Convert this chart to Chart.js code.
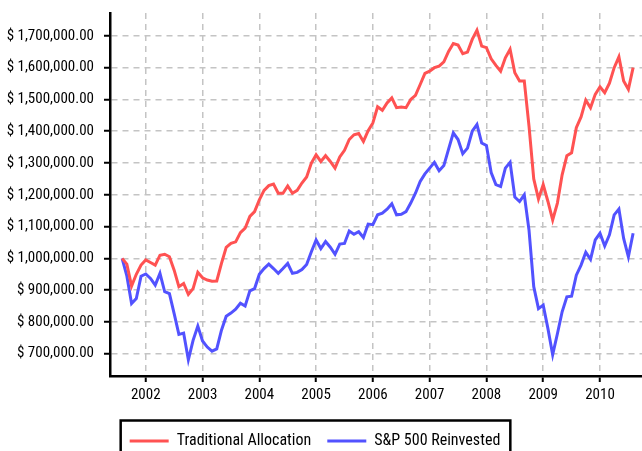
<!DOCTYPE html>
<html>
<head>
<meta charset="utf-8">
<script src="https://cdn.jsdelivr.net/npm/chart.js@4.4.1/dist/chart.umd.min.js"></script>
<style>
    html, body { margin: 0; padding: 0; overflow: hidden; background: #fff; }
</style>
</head>
<body>
<canvas id="grafica" width="642" height="459"></canvas>
<script>
// Serie mensual (fin de mes), de julio 2001 a julio 2010
const inicioAnio = 2001;
const inicioMes = 7;

const tradicional = [
    1000000, 982000, 913000, 950000, 979000, 995000, 987000, 979000, 1010000, 1013000,
    1005000, 963000, 911000, 921000, 887000, 905000, 956000, 939000, 932000, 928000,
    929000, 984000, 1035000, 1047000, 1052000, 1081000, 1095000, 1132000, 1147000, 1184000,
    1214000, 1229000, 1234000, 1205000, 1205000, 1228000, 1205000, 1214000, 1237000, 1256000,
    1300000, 1326000, 1305000, 1323000, 1305000, 1284000, 1319000, 1340000, 1374000, 1389000,
    1393000, 1368000, 1402000, 1426000, 1477000, 1466000, 1489000, 1505000, 1474000, 1476000,
    1474000, 1500000, 1513000, 1547000, 1582000, 1589000, 1600000, 1605000, 1618000, 1651000,
    1676000, 1671000, 1644000, 1649000, 1689000, 1718000, 1668000, 1663000, 1628000, 1607000,
    1589000, 1631000, 1658000, 1584000, 1558000, 1558000, 1416000, 1250000, 1187000, 1232000,
    1179000, 1121000, 1174000, 1263000, 1323000, 1332000, 1411000, 1445000, 1498000, 1474000,
    1516000, 1540000, 1521000, 1551000, 1600000, 1634000, 1558000, 1532000, 1600000
];

const sp500 = [
    1000000, 945000, 858000, 874000, 944000, 951000, 937000, 916000, 953000, 895000,
    889000, 826000, 761000, 765000, 681000, 742000, 787000, 740000, 721000, 708000,
    715000, 774000, 818000, 828000, 840000, 859000, 850000, 898000, 905000, 950000,
    968000, 982000, 968000, 953000, 968000, 984000, 953000, 956000, 965000, 981000,
    1021000, 1058000, 1031000, 1053000, 1035000, 1013000, 1045000, 1047000, 1086000, 1076000,
    1084000, 1066000, 1108000, 1106000, 1137000, 1142000, 1155000, 1172000, 1137000, 1139000,
    1147000, 1174000, 1205000, 1242000, 1266000, 1284000, 1302000, 1276000, 1292000, 1344000,
    1395000, 1374000, 1329000, 1347000, 1400000, 1421000, 1363000, 1355000, 1270000, 1232000,
    1226000, 1284000, 1302000, 1193000, 1179000, 1200000, 1089000, 911000, 842000, 853000,
    779000, 697000, 763000, 832000, 879000, 881000, 947000, 979000, 1019000, 997000,
    1058000, 1079000, 1039000, 1074000, 1137000, 1155000, 1063000, 1005000, 1079000
];

const anios = [2002, 2003, 2004, 2005, 2006, 2007, 2008, 2009, 2010];
const ticksY = [700000, 800000, 900000, 1000000, 1100000, 1200000, 1300000, 1400000, 1500000, 1600000, 1700000];

const fuente = "'Roboto Condensed', 'DejaVu Sans Condensed', sans-serif";

// posicion de cada mes en anios decimales
const fechas = tradicional.map((_, i) => inicioAnio + (inicioMes + i) / 12);
const puntos = serie => serie.map((v, i) => ({ x: fechas[i], y: v }));

// la leyenda original esta un poco corrida a la izquierda
const moverLeyenda = {
    id: 'moverLeyenda',
    afterUpdate(chart) {
        const leyenda = chart.legend;
        leyenda.left -= 6;
        leyenda.right -= 6;
        leyenda.legendHitBoxes.forEach(c => { c.left -= 6; });
    }
};

// recuadro negro alrededor de la leyenda
const cajaLeyenda = {
    id: 'cajaLeyenda',
    afterDraw(chart) {
        const cajas = chart.legend.legendHitBoxes;
        if (!cajas || !cajas.length) return;
        const primera = cajas[0];
        const ultima = cajas[cajas.length - 1];
        const izq = primera.left - 9;
        const der = ultima.left + ultima.width + 10;
        const centro = primera.top + primera.height / 2;
        const ctx = chart.ctx;
        ctx.save();
        ctx.strokeStyle = '#000';
        ctx.lineWidth = 2.5;
        ctx.strokeRect(izq, centro - 20.5, der - izq, 80);
        ctx.restore();
    }
};

const formatoDolar = v => '$ ' + v.toLocaleString('en-US', { minimumFractionDigits: 2, maximumFractionDigits: 2 });

new Chart(document.getElementById('grafica').getContext('2d'), {
    type: 'line',
    data: {
        datasets: [{
            label: 'Traditional Allocation',
            data: puntos(tradicional),
            borderColor: '#ff5252',
            backgroundColor: '#ff5252',
            borderWidth: 3,
            pointRadius: 0,
            tension: 0
        }, {
            label: 'S&P 500 Reinvested',
            data: puntos(sp500),
            borderColor: '#5252ff',
            backgroundColor: '#5252ff',
            borderWidth: 3,
            pointRadius: 0,
            tension: 0
        }]
    },
    options: {
        responsive: false,
        animation: false,
        layout: { padding: { top: 13, left: 0, right: 0, bottom: 0 } },
        plugins: {
            tooltip: { enabled: false },
            legend: {
                position: 'bottom',
                labels: {
                    color: '#000',
                    font: { family: fuente, size: 16 },
                    boxWidth: 39,
                    boxHeight: 3,
                    padding: 16,
                    generateLabels: chart => Chart.defaults.plugins.legend.labels.generateLabels(chart)
                        .map(item => ({ ...item, lineWidth: 0 }))
                }
            }
        },
        scales: {
            x: {
                type: 'linear',
                min: 2001.37,
                max: 2010.74,
                afterBuildTicks: eje => { eje.ticks = anios.map(v => ({ value: v })); },
                afterFit: eje => { eje.height = 41; eje.paddingLeft = 0; eje.paddingRight = 0; },
                ticks: {
                    color: '#000',
                    font: { family: fuente, size: 15 },
                    padding: 4,
                    maxRotation: 0,
                    callback: v => String(v)
                },
                grid: {
                    color: '#c4c4c4',
                    lineWidth: 1.5,
                    tickColor: '#000',
                    tickLength: 6,
                    tickWidth: 2,
                    tickBorderDash: []
                },
                border: { color: '#000', width: 2.5, dash: [6, 5] }
            },
            y: {
                min: 630000,
                max: 1772000,
                afterBuildTicks: eje => { eje.ticks = ticksY.map(v => ({ value: v })); },
                afterFit: eje => { eje.width = 110; eje.paddingTop = 0; eje.paddingBottom = 0; },
                ticks: {
                    color: '#000',
                    font: { family: fuente, size: 15 },
                    padding: 10,
                    callback: v => formatoDolar(v)
                },
                grid: {
                    color: '#c4c4c4',
                    lineWidth: 1.5,
                    tickColor: '#000',
                    tickLength: 6,
                    tickWidth: 2,
                    tickBorderDash: []
                },
                border: { color: '#000', width: 2.5, dash: [6, 5] }
            }
        }
    },
    plugins: [moverLeyenda, cajaLeyenda]
});
</script>
</body>
</html>
